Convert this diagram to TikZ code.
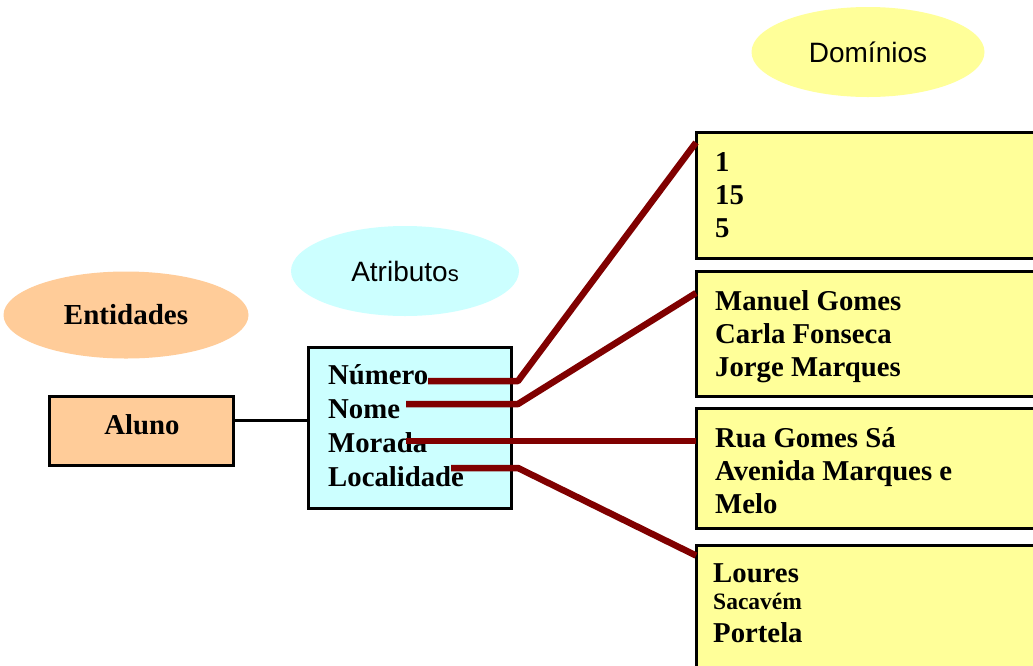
\documentclass[tikz,border=0pt]{standalone}
\usepackage{fontspec}
\setmainfont{Liberation Serif}
\setsansfont{Liberation Sans}
\usetikzlibrary{shapes.geometric, positioning}
\definecolor{pessego}{HTML}{FFCC99}
\definecolor{ciano}{HTML}{CCFFFF}
\definecolor{amarelo}{HTML}{FFFF99}
\definecolor{vinho}{HTML}{800000}
\tikzstyle{rotulo} = [ellipse, inner sep=0pt, font=\sffamily\fontsize{28}{33}\selectfont]
\tikzstyle{caixa} = [rectangle, draw=black, line width=3pt, inner sep=0pt, outer sep=0pt, anchor=north west]
\tikzstyle{texto} = [align=left, anchor=north west, inner sep=0pt, font=\bfseries\fontsize{28.75}{33}\selectfont]
\tikzstyle{linha} = [black, line width=3pt]
\tikzstyle{ligacao} = [vinho, line width=6.5pt, line join=round]

\begin{document}
\begin{tikzpicture}[x=1pt, y=-1pt]
    \path[use as bounding box, fill=white] (0,0) rectangle (1033,665);
    \clip (0,0) rectangle (1033,665);
    % etiquetas
    \node (entidades) [rotulo, fill=pessego, minimum width=245pt, minimum height=87pt, font=\bfseries\fontsize{29}{33}\selectfont] at (126,315) {Entidades};
    \node (atributos) [rotulo, fill=ciano, minimum width=228pt, minimum height=90pt] at (405,271) {Atributo{\fontsize{22}{33}\selectfont s}};
    \node (dominios) [rotulo, fill=amarelo, minimum width=233pt, minimum height=90pt] at (868,52) {Domínios};
    % entidade e atributos
    \node (aluno) [caixa, fill=pessego, minimum width=184pt, minimum height=69pt] at (49.5,396.5) {};
    \node (alunotxt) [texto, anchor=center] at (142,425) {Aluno};
    \node (atrib) [caixa, fill=ciano, minimum width=203pt, minimum height=161pt] at (308.5,347.5) {};
    \node (atribtxt) [texto, font=\bfseries\fontsize{28.75}{34}\selectfont] at (328,364) {Número\\Nome\\Morada\\Localidade};
    \draw [linha] ([yshift=11pt]aluno.east) -- ([yshift=11pt]aluno.east -| atrib.west);
    % dominios
    \node (dom1) [caixa, fill=amarelo, minimum width=360pt, minimum height=126pt] at (696,132.5) {};
    \node (dom2) [caixa, fill=amarelo, minimum width=360pt, minimum height=125pt] at (696,271.5) {};
    \node (dom3) [caixa, fill=amarelo, minimum width=360pt, minimum height=120pt] at (696,408.5) {};
    \node (dom4) [caixa, fill=amarelo, minimum width=360pt, minimum height=150pt] at (696,545.5) {};
    \node (dom1txt) [texto] at (715,152) {1\\15\\5};
    \node (dom2txt) [texto] at (715,290) {Manuel Gomes\\Carla Fonseca\\Jorge Marques};
    \node (dom3txt) [texto] at (715,427) {Rua Gomes Sá\\Avenida Marques e\\Melo};
    \node (dom4txt) [texto] at (713,563) {Loures\\[-6pt]{\fontsize{23.5}{33}\selectfont Sacavém}\\Portela};
    % ligacoes
    \coordinate (numero) at (428,381);
    \coordinate (nome) at (406,404);
    \coordinate (morada) at (406,441);
    \coordinate (localidade) at (451,468);
    \draw [ligacao] (numero) -- ([xshift=6.5pt]numero -| atrib.east) -- ([yshift=-10pt]dom1.north west);
    \draw [ligacao] (nome) -- ([xshift=6.5pt]nome -| atrib.east) -- ([yshift=-21.5pt]dom2.north west);
    \draw [ligacao] (morada) -- (morada -| dom3.west);
    \draw [ligacao] (localidade) -- ([xshift=6.5pt]localidade -| atrib.east) -- ([yshift=-10pt]dom4.north west);
\end{tikzpicture}
\end{document}
